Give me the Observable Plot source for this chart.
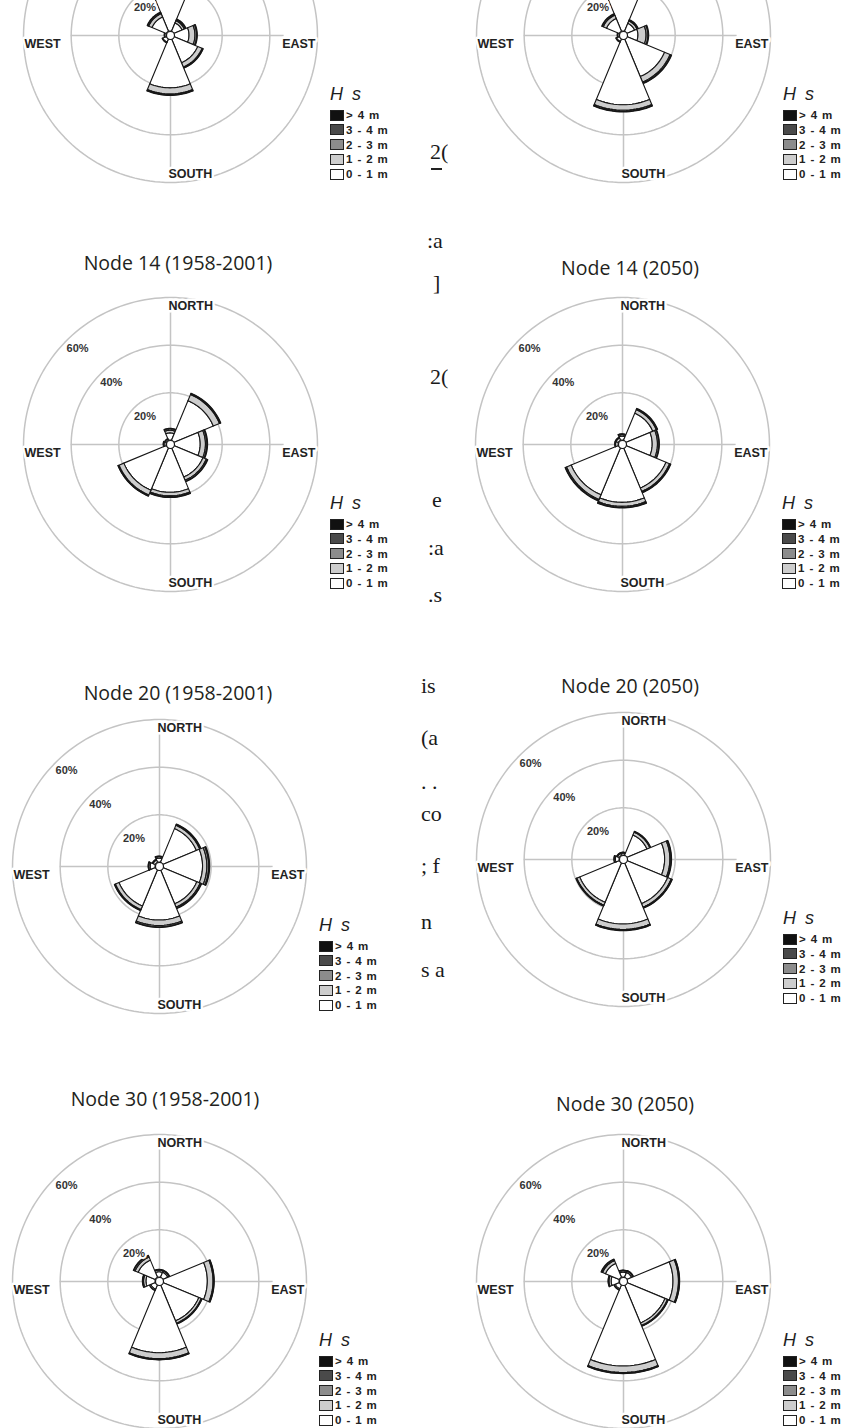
<!DOCTYPE html>
<html><head><meta charset="utf-8">
<script src="https://cdn.jsdelivr.net/npm/d3@7"></script>
<script src="https://cdn.jsdelivr.net/npm/@observablehq/plot@0.6"></script>
<style>
html,body{margin:0;padding:0;background:#fff;}
body{width:844px;height:1428px;overflow:hidden;position:relative;}
.panel{position:absolute;}
.title{position:absolute;font-family:"Open Sans",sans-serif;font-size:19.5px;color:#231f20;transform:translate(-50%,-50%);white-space:nowrap;}
.hs{position:absolute;font-family:"Liberation Sans",Arial,sans-serif;font-style:italic;font-size:18px;color:#1e1e1e;letter-spacing:2px;transform:translateY(-50%);}
.lrow{position:absolute;height:14px;display:flex;align-items:center;transform:translateY(-50%);font-family:"Liberation Sans",Arial,sans-serif;font-weight:bold;font-size:11.5px;color:#222;letter-spacing:0.9px;white-space:nowrap;}
.lbox{width:12px;height:9px;border:1px solid #222;margin-right:2px;}
.bleed{position:absolute;left:421px;width:27px;overflow:hidden;height:40px;transform:translateY(-50%);}
.bleed span{position:absolute;top:6px;font-family:"Liberation Serif","DejaVu Serif",serif;font-size:22px;color:#1a1a1a;white-space:nowrap;line-height:28px;}
</style></head><body>
<script>
// ---- data ----
const directions = ["N","NE","E","SE","S","SW","W","NW"];
const heightClasses = ["0 - 1 m","1 - 2 m","2 - 3 m","3 - 4 m","> 4 m"];
const classColors = ["#ffffff","#cdcdcd","#8c8c8c","#4a4a4a","#111111"];
const ringLevels = [20, 40, 60];
const ringLabels = ["20%", "40%", "60%"];
const compassLabels = ["NORTH", "EAST", "SOUTH", "WEST"];
const legendLabels = ["> 4 m", "3 - 4 m", "2 - 3 m", "1 - 2 m", "0 - 1 m"];

// percent of time per direction [N..NW], each [0-1, 1-2, 2-3, 3-4, >4 m]
const topHist = [[22,3,0.8,0.3,0],[3.8,1.0,0.5,0.3,0],[6.3,2.5,0.7,0.3,0],[10.9,2.0,0.4,0.1,0],[20.5,2.6,0.4,0.2,0],[1.5,0.3,0.1,0,0],[0.6,0.2,0,0,0],[6.5,1.5,0.5,0.2,0]];
const top2050 = [[24,3,0.8,0.3,0],[3.6,1.1,0.4,0.2,0],[4.6,3.4,0.8,0.3,0],[17.2,2.5,0.5,0.2,0],[27.6,2.3,0.5,0.2,0],[1.2,0.3,0.1,0,0],[0.6,0.2,0,0,0],[5.8,1.5,0.5,0.2,0]];
const node14Hist = [[3.0,1.1,0.6,0.2,0],[18,2.8,0.4,0.2,0],[11,2.2,0.6,0.3,0],[13.3,1.5,0.5,0.2,0],[18.6,1.5,0.5,0.2,0],[19.3,2.2,0.4,0.1,0],[0.8,0.3,0.1,0,0],[0.6,0.2,0,0,0]];
const node142050 = [[1.6,0.6,0.3,0.1,0],[12.3,1.6,0.4,0.2,0],[11,2.2,0.6,0.2,0],[18.3,1.6,0.4,0.2,0],[22.8,1.7,0.5,0.2,0],[21.4,2.1,0.5,0.2,0],[1.0,0.3,0.1,0,0],[1.0,0.3,0.1,0,0]];
const node20Hist = [[1.6,0.6,0.2,0.1,0],[15.3,1.5,0.4,0.2,0],[16.6,1.8,0.8,0.4,0],[15.5,1.5,0.5,0.2,0],[21,2.3,0.6,0.2,0],[16.5,1.6,0.4,0.1,0],[2.0,0.6,0.2,0.1,0],[1.0,0.3,0.1,0,0]];
const node202050 = [[0.8,0.3,0.1,0,0],[9.2,1.3,0.3,0.1,0],[15.8,2.2,0.5,0.2,0],[18.6,1.6,0.4,0.1,0],[25.6,2.3,0.4,0.1,0],[18,1.3,0.3,0.1,0],[1.5,0.5,0.2,0,0],[0.8,0.3,0.1,0,0]];
const node30Hist = [[2.2,0.7,0.2,0.1,0],[2.3,0.6,0.2,0.1,0],[18.6,2.4,0.4,0.1,0],[16.4,1.1,0.3,0.1,0],[28.4,2.5,0.4,0.1,0],[2.0,0.5,0.2,0,0],[3.8,1.0,0.4,0.1,0],[7.8,1.4,0.6,0.2,0]];
const node302050 = [[2.0,0.6,0.2,0.1,0],[2.2,0.6,0.2,0.1,0],[19.3,2.3,0.4,0.1,0],[17.4,1.1,0.3,0.1,0],[34,2.7,0.4,0.1,0],[1.8,0.5,0.2,0,0],[3.3,0.9,0.3,0.1,0],[6.3,1.3,0.5,0.2,0]];

const panelTitles = [null, null, "Node 14 (1958-2001)", "Node 14 (2050)", "Node 20 (1958-2001)", "Node 20 (2050)", "Node 30 (1958-2001)", "Node 30 (2050)"];
const panelData = [topHist, top2050, node14Hist, node142050, node20Hist, node202050, node30Hist, node302050];

// bleed-through text fragments from the page behind
const bleedText = ["2(", ":a", "]", "2(", "e", ":a", ".s", "is", "(a", ". .", "co", "; f", "n", "s a"];

// ---- layout (pixels) ----
const layout = [
  {cx:170, cy:35}, {cx:623, cy:35},
  {cx:170, cy:444, tx:178, ty:262}, {cx:622, cy:444, tx:630, ty:267},
  {cx:159, cy:866, tx:178, ty:692}, {cx:623, cy:859, tx:630, ty:685},
  {cx:159, cy:1281, tx:165, ty:1098}, {cx:623, cy:1281, tx:625, ty:1103}
];
const bleedPos = [[9,152],[6,241],[12,283],[9,377],[11,500],[7,548],[7,595],[0,686],[0,738],[0,782],[0,814],[0,866],[0,922],[0,970]];
const k = 2.383;          // px per percent
const hole = 4 / k;       // centre circle radius in percent units

function rose(values, cy) {
  const wedges = [];
  values.forEach((v, i) => {
    let c = 0;
    v.forEach((p, j) => {
      if (!(p > 0)) return;
      const r0 = hole + c, r1 = hole + c + p; c += p;
      const mid = i * 45;
      for (let s = 0; s <= 18; s++) {
        const a = (mid - 22.5 + 45 * s / 18) * Math.PI / 180;
        wedges.push({id: directions[i] + j, cls: heightClasses[j],
          x1: r0 * Math.sin(a), y1: r0 * Math.cos(a), x2: r1 * Math.sin(a), y2: r1 * Math.cos(a)});
      }
    });
  });
  const rings = [];
  ringLevels.forEach(lv => {
    for (let s = 0; s <= 180; s++) {
      const a = s * 2 * Math.PI / 180;
      rings.push({lv, x: (hole + lv) * Math.sin(a), y: (hole + lv) * Math.cos(a)});
    }
  });
  const R = hole + ringLevels[ringLevels.length - 1];
  // labels that would sit above the top of the page are left out (the page crops them)
  const shownLevels = ringLevels.filter(d => cy - (hole + d) * Math.SQRT1_2 * k + 3 > 0);
  const font = {fontFamily: "Liberation Sans, Arial, sans-serif", fontWeight: "bold"};
  const halo = {stroke: "white", strokeWidth: 5, paintOrder: "stroke"};
  const lab = {fontSize: 12.5, fill: "#222", ...font, ...halo};
  const marks = [
    Plot.line(rings, {x: "x", y: "y", z: "lv", stroke: "#c4c4c4", strokeWidth: 1.5}),
    Plot.ruleX([0], {y1: -(hole + 56), y2: hole + 56, stroke: "#c4c4c4", strokeWidth: 1.5}),
    Plot.ruleY([0], {x1: -(hole + 40), x2: hole + 46, stroke: "#c4c4c4", strokeWidth: 1.5}),
    Plot.area(wedges, {x1: "x1", y1: "y1", x2: "x2", y2: "y2", z: "id", fill: "cls", stroke: "#161616", strokeWidth: 1.1}),
    Plot.dot([0], {x: () => 0, y: () => 0, r: 4, fill: "white", stroke: "#161616", strokeWidth: 1.2}),
    Plot.text(shownLevels, {x: d => -(hole + d) * Math.SQRT1_2, y: d => (hole + d) * Math.SQRT1_2, text: d => ringLabels[ringLevels.indexOf(d)],
      textAnchor: "start", dy: 8, fontSize: 11, fill: "#333", ...font, ...halo, strokeWidth: 4}),
    Plot.text([compassLabels[1]], {x: () => R, y: () => 0, text: d => d, textAnchor: "end", dx: -2, dy: 8, ...lab}),
    Plot.text([compassLabels[2]], {x: () => 0, y: () => -R, text: d => d, textAnchor: "start", dx: -2, dy: -8, ...lab}),
    Plot.text([compassLabels[3]], {x: () => -R, y: () => 0, text: d => d, textAnchor: "start", dx: 1, dy: 8, ...lab})
  ];
  if (cy - R * k > 0) marks.push(Plot.text([compassLabels[0]], {x: () => 0, y: () => R, text: d => d, textAnchor: "start", dx: -2, dy: 8, ...lab}));
  return Plot.plot({
    width: 378, height: 316, margin: 0,
    x: {domain: [-158 / k, 220 / k], axis: null},
    y: {domain: [-158 / k, 158 / k], axis: null},
    color: {domain: heightClasses, range: classColors},
    style: {background: "transparent", overflow: "visible"},
    marks
  });
}

function el(tag, cls, css, text) {
  const e = document.createElement(tag);
  if (cls) e.className = cls;
  Object.assign(e.style, css || {});
  if (text != null) e.textContent = text;
  document.body.appendChild(e);
  return e;
}

panelData.forEach((vals, i) => {
  const L = layout[i];
  const p = el("div", "panel", {left: (L.cx - 158) + "px", top: (L.cy - 158) + "px"});
  p.appendChild(rose(vals, L.cy));
  if (panelTitles[i]) el("div", "title", {left: L.tx + "px", top: L.ty + "px"}, panelTitles[i]);
  // legend
  el("div", "hs", {left: (L.cx + 160) + "px", top: (L.cy + 59) + "px"}, "H s");
  legendLabels.forEach((t, j) => {
    const row = el("div", "lrow", {left: (L.cx + 160) + "px", top: (L.cy + 80 + j * 14.75) + "px"});
    const b = document.createElement("span");
    b.className = "lbox";
    b.style.background = classColors[classColors.length - 1 - j];
    row.appendChild(b);
    row.appendChild(document.createTextNode(t));
  });
});

bleedText.forEach((t, i) => {
  const w = el("div", "bleed", {top: bleedPos[i][1] + "px"});
  const s = document.createElement("span");
  s.style.left = bleedPos[i][0] + "px";
  s.textContent = t;
  w.appendChild(s);
});
el("div", null, {position: "absolute", left: "431px", top: "168px", width: "11px", height: "1.5px", background: "#222"});
</script>
</body></html>
